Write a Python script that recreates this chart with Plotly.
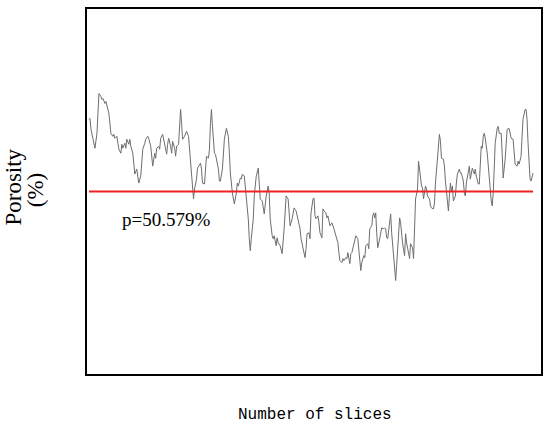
import plotly.graph_objects as go

# Slice numbers and porosity values (%)
slices = [1, 2, 3, 5, 6, 7, 9, 10, 11, 13, 14, 15, 17, 18, 19, 21, 22, 23, 25, 26, 27, 29, 30, 31, 33, 34, 35, 37, 38, 39,
          41, 42, 43, 45, 46, 47, 49, 50, 51, 53, 54, 55, 57, 58, 60, 61, 63, 64, 65, 67, 68, 69, 71, 72, 73, 75, 76, 77, 79, 80,
          81, 83, 84, 85, 87, 88, 89, 91, 92, 93, 94, 95, 97, 98, 99, 101, 102, 103, 105, 106, 107, 109, 110, 111, 113, 114, 115, 117, 118, 119,
          121, 122, 123, 124, 125, 127, 128, 129, 131, 132, 133, 135, 136, 137, 139, 141, 142, 143, 145, 146, 147, 149, 150, 151, 153, 154, 155, 157, 158, 159,
          161, 162, 163, 164, 166, 167, 169, 171, 172, 173, 175, 176, 177, 179, 180, 181, 182, 183, 185, 186, 187, 189, 190, 191, 193, 194, 195, 197, 198, 199,
          201, 202, 203, 205, 206, 207, 209, 210, 211, 213, 214, 215, 217, 218, 219, 220, 222, 223, 224, 226, 227, 228, 229, 231, 232, 233, 235, 236, 237, 239,
          240, 241, 243, 244, 245, 247, 248, 249, 251, 252, 253, 255, 256, 257, 259, 260, 261, 263, 264, 265, 267, 268, 269, 271, 272, 273, 274, 275, 277, 278,
          279, 281, 282, 283, 285, 286, 287, 288, 289, 290, 291, 293, 294, 295, 297, 298, 299, 300, 301, 303, 304, 305, 307, 308, 309, 310, 312, 313, 314, 315,
          316, 318, 319, 320, 322, 323, 324, 326, 327, 328, 329, 331, 332, 333, 335, 336, 337, 339, 340, 341, 343, 344, 345, 347, 348, 349, 351, 352, 353, 354,
          355, 357, 358, 359, 361, 362, 363, 364, 365, 366, 367, 369, 370, 371, 373, 374, 375, 377, 378, 379, 380, 382, 383, 384, 385, 386, 388, 389, 390, 392,
          393, 394, 395, 396, 397, 398, 399, 401, 402, 403, 405, 406, 407, 408, 409, 411, 412, 413, 415, 416, 417, 419, 420, 421, 423, 424, 425, 427, 428, 429,
          431, 432, 433, 435, 436, 437, 438, 439, 440, 441, 442, 443, 444, 445, 447]

porosity = [52.03, 52.05, 51.83, 51.63, 51.49, 51.45, 51.75, 52.23, 52.55, 52.49, 52.43, 52.45, 52.35, 52.39, 52.29, 52.15, 51.95, 51.75, 51.69, 51.73,
            51.65, 51.69, 51.55, 51.43, 51.35, 51.53, 51.45, 51.55, 51.45, 51.63, 51.53, 51.63, 51.49, 51.35, 51.15, 50.93, 51.03, 50.89, 50.75, 50.89,
            51.15, 51.43, 51.55, 51.63, 51.69, 51.65, 51.49, 51.23, 51.09, 51.35, 51.25, 51.45, 51.49, 51.43, 51.65, 51.73, 51.63, 51.53, 51.33, 51.53,
            51.65, 51.49, 51.35, 51.59, 51.45, 51.29, 51.49, 51.53, 52.03, 52.23, 51.95, 51.63, 51.69, 51.73, 51.79, 51.69, 51.43, 51.03, 50.63, 50.43,
            50.63, 50.83, 51.05, 51.09, 51.15, 51.03, 50.75, 50.73, 51.09, 51.29, 51.25, 51.43, 51.95, 52.23, 51.89, 51.35, 51.33, 51.25, 51.03, 50.79,
            50.79, 51.03, 51.35, 51.63, 51.85, 51.69, 51.35, 50.95, 50.55, 50.43, 50.33, 50.55, 50.75, 50.69, 50.85, 50.83, 50.93, 50.89, 50.69, 50.43,
            50.03, 49.63, 49.39, 49.63, 50.03, 50.49, 50.89, 51.05, 50.75, 50.43, 50.39, 50.29, 50.13, 50.49, 50.63, 50.69, 50.55, 50.03, 49.69, 49.63,
            49.69, 49.49, 49.65, 49.55, 49.49, 49.43, 49.33, 49.83, 50.29, 50.49, 50.43, 50.15, 49.89, 50.03, 50.15, 50.25, 50.19, 50.09, 50.03, 49.83,
            49.63, 49.55, 49.35, 49.25, 49.43, 49.73, 49.75, 49.63, 50.15, 50.43, 50.45, 50.09, 50.03, 50.09, 49.95, 49.75, 49.65, 50.23, 50.19, 50.15,
            50.05, 50.09, 49.89, 49.93, 49.95, 49.83, 49.75, 49.69, 49.55, 49.35, 49.19, 49.15, 49.23, 49.19, 49.25, 49.23, 49.35, 49.13, 49.33, 49.35,
            49.55, 49.65, 49.69, 49.63, 49.43, 49.15, 48.99, 49.15, 49.29, 49.25, 49.49, 49.53, 49.43, 49.83, 49.89, 50.09, 50.15, 50.05, 50.15, 49.75,
            49.45, 49.63, 49.79, 49.85, 49.83, 49.85, 49.83, 49.65, 49.63, 49.95, 50.13, 49.75, 49.23, 48.89, 48.79, 49.09, 49.63, 50.05, 49.95, 49.73,
            49.53, 49.29, 49.73, 49.55, 49.29, 49.23, 49.53, 49.45, 49.23, 49.89, 50.43, 50.63, 51.19, 51.03, 50.69, 50.65, 50.43, 50.69, 50.63, 50.49,
            50.43, 50.29, 50.25, 50.23, 50.35, 50.75, 51.25, 51.49, 51.73, 51.59, 51.25, 51.23, 51.09, 50.79, 50.35, 50.19, 50.49, 50.75, 50.59, 50.69,
            50.39, 50.49, 50.75, 50.93, 51.03, 50.95, 50.95, 50.79, 50.55, 50.49, 50.75, 51.03, 51.09, 50.83, 50.95, 51.05, 50.93, 51.03, 50.89, 50.73,
            50.73, 51.09, 51.49, 51.45, 51.69, 51.75, 51.65, 51.35, 51.09, 50.75, 50.39, 50.29, 50.55, 51.03, 51.55, 51.85, 51.89, 51.75, 51.75, 51.35,
            50.85, 51.23, 51.63, 51.83, 51.85, 51.69, 51.65, 51.63, 51.35, 51.13, 51.09, 51.19, 51.13, 51.29, 51.69, 52.05, 52.13, 52.23, 52.23, 52.03,
            51.55, 51.15, 50.83, 50.79, 50.95]

mean_p = 50.579
mean_label = "p=50.579%"
x_title = "Number of slices"
y_title_line1 = "Porosity"
y_title_line2 = "(%)"

fig = go.Figure()
fig.add_trace(go.Scatter(x=slices, y=porosity, mode="lines",
                         line=dict(color="#6e6e6e", width=1), showlegend=False))
fig.add_trace(go.Scatter(x=[slices[0], slices[-1]], y=[mean_p, mean_p], mode="lines",
                         line=dict(color="#ee2222", width=2), showlegend=False))

axis_common = dict(showgrid=False, zeroline=False, showticklabels=False, ticks="",
                   showline=True, linecolor="black", linewidth=1.5, mirror=True)
fig.update_xaxes(range=[-1, 455], **axis_common)
fig.update_yaxes(range=[46.91, 54.25], **axis_common)

serif = "Liberation Serif"
common_ann = dict(xref="paper", yref="paper", showarrow=False, xanchor="center", yanchor="middle")
fig.add_annotation(text=mean_label, x=0.173, y=0.422,
                   font=dict(family=serif, size=19, color="black"), **common_ann)
fig.add_annotation(text=y_title_line1, x=-0.162, y=0.512, textangle=-90,
                   font=dict(family=serif, size=23, color="black"), **common_ann)
fig.add_annotation(text=y_title_line2, x=-0.114, y=0.504, textangle=-90,
                   font=dict(family=serif, size=23, color="black"), **common_ann)
fig.add_annotation(text=x_title, x=0.502, y=-0.112,
                   font=dict(family="Liberation Mono", size=16, color="black"), **common_ann)

fig.update_layout(width=550, height=431, margin=dict(l=87, r=7, t=7, b=57),
                  plot_bgcolor="white", paper_bgcolor="white", hovermode=False)

fig.write_html("out.html", config={"displayModeBar": False},
               post_script="document.body.style.margin='0';")
